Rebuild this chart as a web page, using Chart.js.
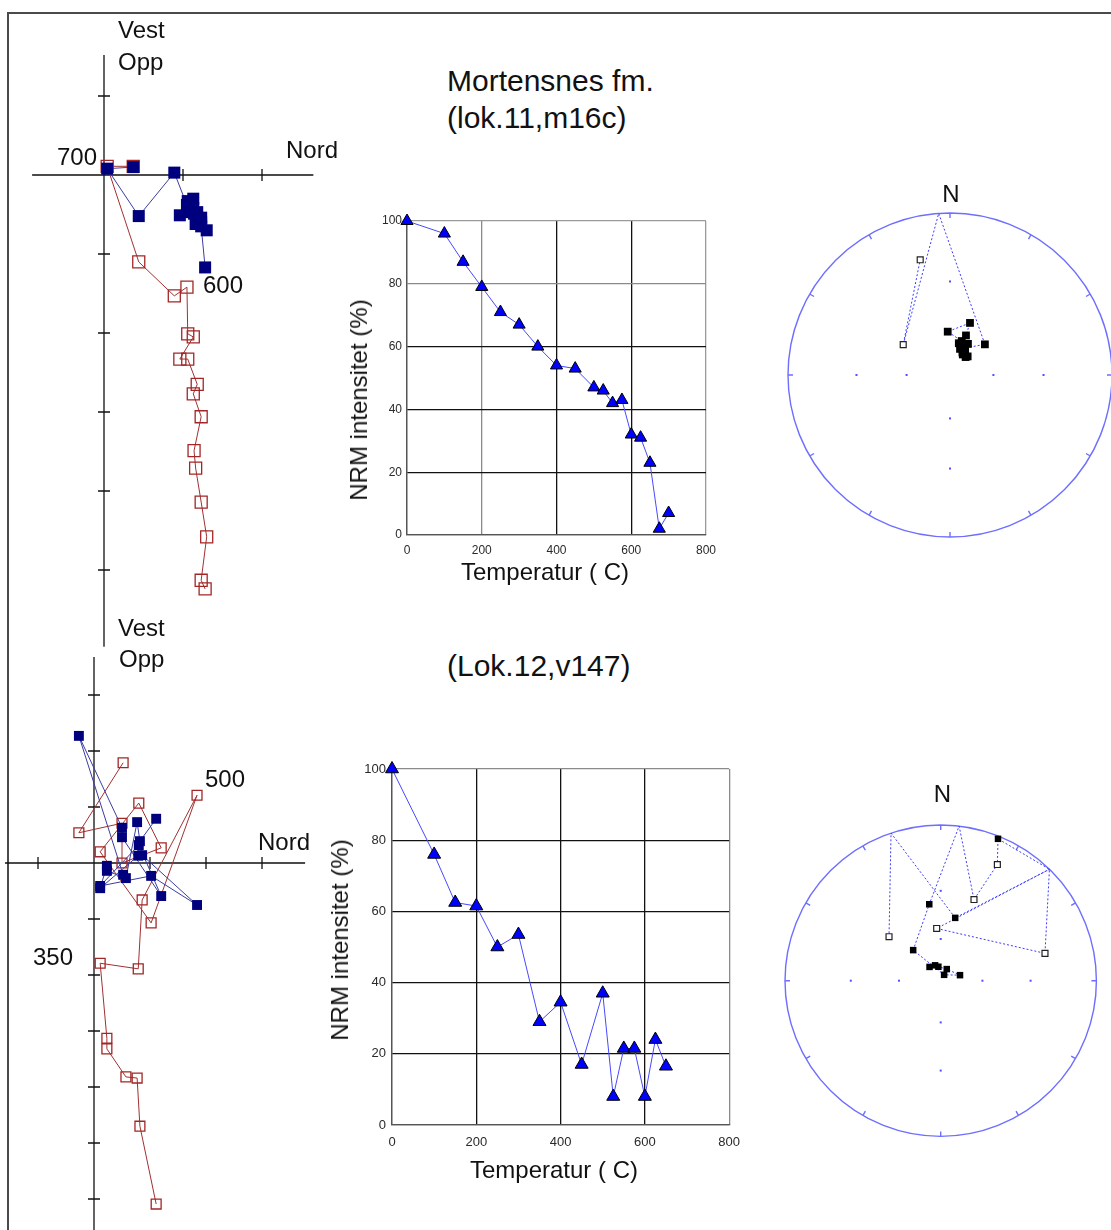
<!DOCTYPE html>
<html lang="no">
<head>
<meta charset="utf-8">
<title>Mortensnes fm. – termisk avmagnetisering</title>
<script src="https://cdn.jsdelivr.net/npm/chart.js@4.4.1/dist/chart.umd.min.js"></script>
<style>
  html, body { margin: 0; padding: 0; background: #fff; }
  #page { position: relative; width: 1111px; height: 1230px; overflow: hidden;
          font-family: "Liberation Sans", Arial, Helvetica, sans-serif; color: #111; }
  #page canvas { position: absolute; }
  .lbl { position: absolute; white-space: nowrap; line-height: 1; }
  .rule { position: absolute; background: #4a4a4a; }
</style>
</head>
<body>
<div id="page">
  <div class="rule" style="left:7px;top:12px;width:1104px;height:1.5px"></div>
  <div class="rule" style="left:7px;top:12px;width:1.5px;height:1218px"></div>

  <canvas id="zijA"    width="340" height="650" style="left:0;top:0"></canvas>
  <canvas id="nrmA"    width="400" height="400" style="left:330px;top:200px"></canvas>
  <canvas id="stereoA" width="331" height="380" style="left:780px;top:170px"></canvas>

  <canvas id="zijB"    width="330" height="580" style="left:0;top:650px"></canvas>
  <canvas id="nrmB"    width="430" height="450" style="left:320px;top:740px"></canvas>
  <canvas id="stereoB" width="341" height="400" style="left:770px;top:770px"></canvas>
</div>

<script>
// ---------------------------------------------------------------
// Lok.11, m16c (Mortensnes fm.) – thermal demagnetisation steps
// ---------------------------------------------------------------
const stepsA = [0, 100, 150, 200, 250, 300, 350, 400, 450, 500, 525, 550, 575, 600, 625, 650, 675, 700];
const nrmA   = [100, 96, 87, 79, 71, 67, 60, 54, 53, 47, 46, 42, 43, 32, 31, 23, 2, 7];

// Orthogonal projection components (plot units): Nord shared, Vest (horizontal plane), Opp (vertical plane)
const nordA = [1.28, 1.23, 1.30, 1.23, 1.16, 1.14, 1.23, 1.13, 1.18, 1.06, 0.96, 1.13, 1.06, 1.05, 0.89, 0.44, 0.04, 0.37];
const vestA = [-1.17, -0.65, -0.70, -0.60, -0.62, -0.49, -0.54, -0.42, -0.47, -0.47, -0.51, -0.30, -0.33, -0.38, 0.03, -0.52, 0.08, 0.10];
const oppA  = [-5.24, -5.13, -4.58, -4.14, -3.71, -3.49, -3.06, -2.77, -2.65, -2.33, -2.33, -2.05, -2.01, -1.42, -1.53, -1.10, 0.11, 0.11];

// Stereographic directions (declination, inclination); inclination 0 marks a crossing of the primitive
const decA = [43.5, 32, 32, 22, 15.5, 22, 21, 357, 19, 30, 41, 29, 21, 48.7, 356, 303, 345.5];
const incA = [72, 73, 70, 69, 67, 60.5, 52, 60, 65, 65, 73.3, 72, 70.4, 58, 0, -52, -17.4];

// ---------------------------------------------------------------
// Lok.12, v147
// ---------------------------------------------------------------
const stepsB = [0, 100, 150, 200, 250, 300, 350, 400, 450, 500, 525, 550, 575, 600, 625, 650];
const nrmB   = [100, 76, 62.5, 61.5, 50, 53.5, 29, 34.5, 17, 37, 8, 21.5, 21.5, 8, 24, 16.5];

const nordB = [1.11, 0.82, 0.77, 0.57, 0.23, 0.23, 0.11, 0.79, 0.86, 1.84, 1.02, 0.11, 0.80, 1.20, 0.50, 0.50, -0.27, 0.52];
const vestB = [0.79, 0.39, 0.73, -0.27, -0.14, -0.05, -0.45, 0.13, 0.14, -0.75, -0.23, -0.41, 0.32, -0.59, 0.46, 0.63, 2.27, -0.21];
const oppB  = [-6.09, -4.70, -3.84, -3.82, -3.32, -3.13, -1.79, -1.89, -0.66, 1.21, -1.07, 0.20, 1.07, 0.27, 0.00, 0.71, 0.54, 1.79];

const decB = [321, 340, 350.5, 27.5, 74, 30, 318, 351.5, 6.8, 22.3, 26, 22, 44.3, 75.3, 355.6, 44.3, 13, 341.4, 310.4];
const incB = [77, 78, 79.6, 80.4, 75.3, 85, 60.4, 37.2, 0, -31.2, -10.6, 1, 0, -20.6, -52.8, 0, 45, 0, -42.9];

// Axis tick values
const tempTicks = [0, 200, 400, 600, 800];
const nrmTicks  = [0, 20, 40, 60, 80, 100];

// ---------------------------------------------------------------
Chart.defaults.font.family = '"Liberation Sans", Arial, Helvetica, sans-serif';
Chart.defaults.animation = false;

// Zijderveld cross axes with tick marks on whole units
const zijAxes = {
  id: 'zijAxes',
  beforeDatasetsDraw(chart, args, o) {
    const { ctx, scales: { x, y } } = chart;
    const ox = x.getPixelForValue(0), oy = y.getPixelForValue(0);
    ctx.save();
    ctx.strokeStyle = '#111';
    ctx.lineWidth = 1.3;
    ctx.beginPath();
    ctx.moveTo(x.getPixelForValue(o.xFrom), oy); ctx.lineTo(x.getPixelForValue(o.xTo), oy);
    ctx.moveTo(ox, y.getPixelForValue(o.yFrom)); ctx.lineTo(ox, y.getPixelForValue(o.yTo));
    for (let v = Math.ceil(o.xFrom); v <= o.xTo; v++) {
      if (v === 0 || v < o.xTickMin) continue;
      const px = x.getPixelForValue(v);
      ctx.moveTo(px, oy - 6); ctx.lineTo(px, oy + 6);
    }
    for (let v = Math.ceil(o.yFrom); v <= o.yTo; v++) {
      if (v === 0) continue;
      const py = y.getPixelForValue(v);
      ctx.moveTo(ox - 6, py); ctx.lineTo(ox + 6, py);
    }
    ctx.stroke();
    ctx.restore();
  }
};

function zijChart(id, nord, vest, opp, frame, mark) {
  const cv = document.getElementById(id);
  const W = cv.width, H = cv.height;
  return new Chart(cv, {
    type: 'scatter',
    data: { datasets: [
      { label: 'N–V', data: nord.map((n, i) => ({ x: n, y: vest[i] })), showLine: true,
        borderColor: '#3c3ca0', borderWidth: 1, pointStyle: 'rect', pointRadius: mark,
        pointBackgroundColor: '#00007f', pointBorderWidth: 0, clip: false },
      { label: 'N–Opp', data: nord.map((n, i) => ({ x: n, y: opp[i] })), showLine: true,
        borderColor: '#a03030', borderWidth: 1, pointStyle: 'rect', pointRadius: mark,
        pointBackgroundColor: 'rgba(0,0,0,0)', pointBorderColor: '#a32626', pointBorderWidth: 1.3, clip: false }
    ] },
    options: {
      responsive: false, animation: false, events: [],
      layout: { padding: 0, autoPadding: false },
      plugins: { legend: { display: false }, tooltip: { enabled: false }, zijAxes: frame },
      scales: {
        x: { type: 'linear', display: false, bounds: 'data', min: -frame.ox / frame.unit, max: (W - frame.ox) / frame.unit },
        y: { type: 'linear', display: false, bounds: 'data', min: -(H - frame.oy) / frame.unit, max: frame.oy / frame.unit }
      }
    },
    plugins: [zijAxes]
  });
}

function nrmChart(id, temps, vals, cfg) {
  const cv = document.getElementById(id);
  const tickFont = { size: cfg.tick };
  return new Chart(cv, {
    type: 'scatter',
    data: { datasets: [{
      label: 'NRM', data: temps.map((t, i) => ({ x: t, y: vals[i] })), showLine: true,
      borderColor: '#4848ff', borderWidth: 1, pointStyle: 'triangle', pointRadius: cfg.mark,
      pointBackgroundColor: '#0000ff', pointBorderColor: '#000', pointBorderWidth: 1, clip: false
    }] },
    options: {
      responsive: false, animation: false, events: [],
      layout: { padding: cfg.pad, autoPadding: false },
      plugins: { legend: { display: false }, tooltip: { enabled: false } },
      scales: {
        x: {
          type: 'linear', min: tempTicks[0], max: tempTicks[tempTicks.length - 1],
          afterBuildTicks: s => { s.ticks = tempTicks.map(v => ({ value: v })); },
          ticks: { color: '#2a2a2a', font: tickFont, padding: cfg.xpad, maxRotation: 0, autoSkip: false },
          grid: { color: c => cfg.gx(c.tick.value), lineWidth: 1.3, drawTicks: false },
          border: { color: '#555', width: 1.3 },
          afterFit: s => { s.height = cfg.xh; }
        },
        y: {
          type: 'linear', min: nrmTicks[0], max: nrmTicks[nrmTicks.length - 1],
          afterBuildTicks: s => { s.ticks = nrmTicks.map(v => ({ value: v })); },
          ticks: { color: '#2a2a2a', font: tickFont, padding: cfg.ypad, autoSkip: false },
          grid: { color: c => cfg.gy(c.tick.value), lineWidth: 1.3, drawTicks: false },
          border: { color: '#555', width: 1.3 },
          afterFit: s => { s.width = cfg.yw; }
        }
      }
    }
  });
}

// Wulff (equal-angle) projection of a direction onto the unit circle
function wulff(dec, inc) {
  const r = Math.tan((90 - Math.abs(inc)) * Math.PI / 360);
  const d = dec * Math.PI / 180;
  return { x: r * Math.sin(d), y: r * Math.cos(d) };
}

const stereoFrame = {
  id: 'stereoFrame',
  beforeDatasetsDraw(chart) {
    const { ctx, scales: { x, y } } = chart;
    const cx = x.getPixelForValue(0), cy = y.getPixelForValue(0);
    const R = x.getPixelForValue(1) - cx;
    ctx.save();
    ctx.strokeStyle = '#6e6eff';
    ctx.lineWidth = 1.4;
    ctx.beginPath();
    ctx.arc(cx, cy, R, 0, Math.PI * 2);
    for (let a = 0; a < 360; a += 30) {
      const t = a * Math.PI / 180;
      ctx.moveTo(cx + R * Math.sin(t), cy - R * Math.cos(t));
      ctx.lineTo(cx + (R - 5) * Math.sin(t), cy - (R - 5) * Math.cos(t));
    }
    ctx.stroke();
    ctx.fillStyle = '#5050ff';
    [0, 90, 180, 270].forEach(d => [30, 60].forEach(i => {
      const p = wulff(d, i);
      ctx.fillRect(x.getPixelForValue(p.x) - 1, y.getPixelForValue(p.y) - 1, 2, 2);
    }));
    ctx.restore();
  }
};

function stereoChart(id, dec, inc, frame) {
  const cv = document.getElementById(id);
  const W = cv.width, H = cv.height;
  const pts = dec.map((d, i) => Object.assign(wulff(d, inc[i]), { inc: inc[i] }));
  return new Chart(cv, {
    type: 'scatter',
    data: { datasets: [
      { label: 'ned', data: pts.filter(p => p.inc > 0), pointStyle: 'rect', pointRadius: frame.filled,
        pointBackgroundColor: '#000', pointBorderColor: '#000', pointBorderWidth: 0, clip: false },
      { label: 'opp', data: pts.filter(p => p.inc < 0), pointStyle: 'rect', pointRadius: frame.open,
        pointBackgroundColor: '#fff', pointBorderColor: '#222', pointBorderWidth: 1.2, clip: false },
      { label: 'bane', data: pts, showLine: true, pointRadius: 0, borderColor: '#3c3cff',
        borderWidth: 1, borderDash: [2, 2], clip: false }
    ] },
    options: {
      responsive: false, animation: false, events: [],
      layout: { padding: 0, autoPadding: false },
      plugins: { legend: { display: false }, tooltip: { enabled: false } },
      scales: {
        x: { type: 'linear', display: false, bounds: 'data', min: -frame.cx / frame.R, max: (W - frame.cx) / frame.R },
        y: { type: 'linear', display: false, bounds: 'data', min: -(H - frame.cy) / frame.R, max: frame.cy / frame.R }
      }
    },
    plugins: [stereoFrame]
  });
}

// ---------------------------------------------------------------
zijChart('zijA', nordA, vestA, oppA,
  { ox: 104, oy: 175, unit: 79, xFrom: -0.91, xTo: 2.65, xTickMin: 1, yFrom: -5.97, yTo: 1.52 }, 8.5);
zijChart('zijB', nordB, vestB, oppB,
  { ox: 94, oy: 213, unit: 56, xFrom: -1.59, xTo: 3.77, xTickMin: -1, yFrom: -6.6, yTo: 3.68 }, 7);

const gridA = v => (v === 0 ? '#555' : (v === 200 || v === 80) ? '#8a8a8a' : (v === 800 || v === 100) ? '#9a9a9a' : '#111');
const gridB = v => (v === 0 ? '#555' : (v === 800 || v === 100) ? '#8a8a8a' : '#111');

nrmChart('nrmA', stepsA, nrmA, {
  pad: { left: 27, right: 24, top: 21, bottom: 35 }, yw: 50, xh: 30,
  tick: 12, xpad: 8, ypad: 5, mark: 7, gx: gridA, gy: gridA
});
nrmChart('nrmB', stepsB, nrmB, {
  pad: { left: 22, right: 19, top: 29, bottom: 35 }, yw: 50, xh: 30,
  tick: 13, xpad: 10, ypad: 6, mark: 7.5, gx: gridB, gy: gridB
});

stereoChart('stereoA', decA, incA, { cx: 170, cy: 205, R: 162, filled: 5.5, open: 4.2 });
stereoChart('stereoB', decB, incB, { cx: 170.7, cy: 210.7, R: 155.7, filled: 4.6, open: 4.2 });

// ---------------------------------------------------------------
// Text: left-aligned (x), centred (cx) or rotated (rot); b = baseline
const labels = [
  { t: 'Vest', x: 118, b: 38, s: 24 },
  { t: 'Opp', x: 118, b: 70, s: 24 },
  { t: '700', x: 57, b: 165, s: 24 },
  { t: 'Nord', x: 286, b: 158, s: 24 },
  { t: '600', x: 203, b: 293, s: 24 },
  { t: 'Mortensnes fm.', x: 447, b: 91, s: 30 },
  { t: '(lok.11,m16c)', x: 447, b: 128, s: 30 },
  { t: 'Temperatur ( C)', cx: 545, b: 580, s: 24 },
  { t: 'NRM intensitet (%)', rot: true, cx: 359, cy: 400, s: 24 },
  { t: 'N', cx: 951, b: 202, s: 24 },

  { t: 'Vest', x: 118, b: 636, s: 24 },
  { t: 'Opp', x: 119, b: 667, s: 24 },
  { t: '500', x: 205, b: 787, s: 24 },
  { t: 'Nord', x: 258, b: 850, s: 24 },
  { t: '350', x: 33, b: 965, s: 24 },
  { t: '(Lok.12,v147)', x: 447, b: 676, s: 30 },
  { t: 'Temperatur ( C)', cx: 554, b: 1178, s: 24 },
  { t: 'NRM intensitet (%)', rot: true, cx: 340, cy: 940, s: 24 },
  { t: 'N', cx: 942.5, b: 802, s: 24 }
];
const page = document.getElementById('page');
labels.forEach(l => {
  const el = document.createElement('div');
  el.className = 'lbl';
  el.textContent = l.t;
  el.style.fontSize = l.s + 'px';
  if (l.rot) {
    el.style.left = l.cx + 'px';
    el.style.top = l.cy + 'px';
    el.style.transform = 'translate(-50%, -50%) rotate(-90deg)';
  } else {
    el.style.top = (l.b - 0.8465 * l.s) + 'px';
    if (l.cx !== undefined) {
      el.style.left = l.cx + 'px';
      el.style.transform = 'translateX(-50%)';
    } else {
      el.style.left = l.x + 'px';
    }
  }
  page.appendChild(el);
});
</script>
</body>
</html>
